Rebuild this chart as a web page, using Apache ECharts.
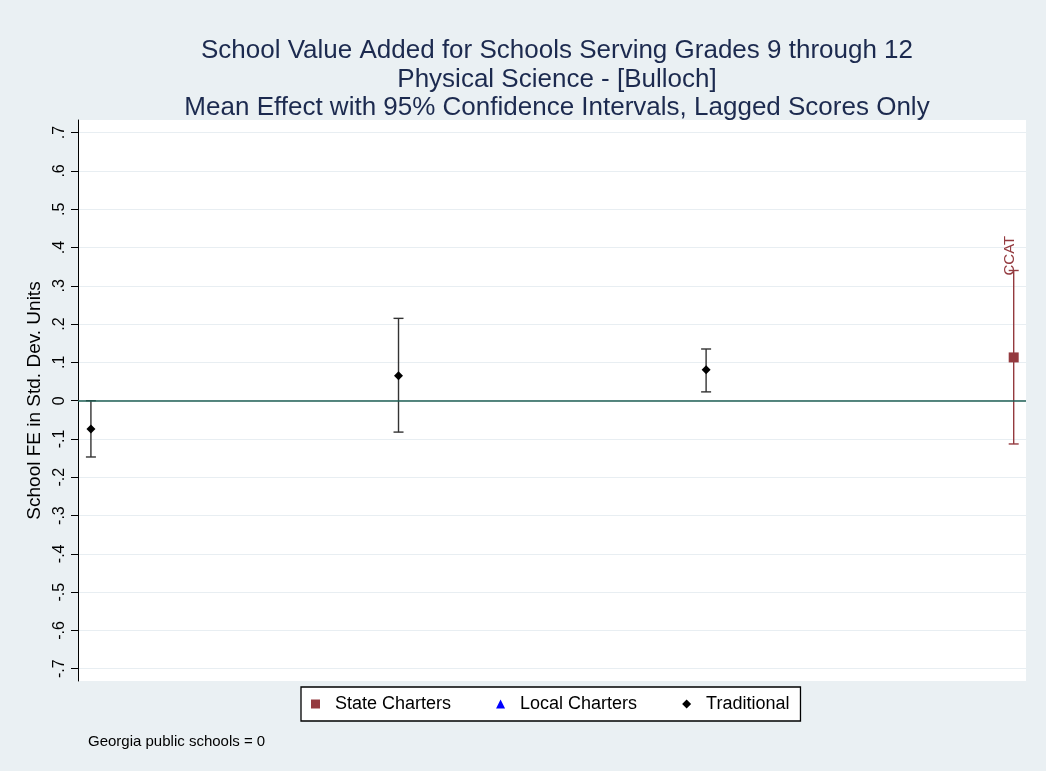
<!DOCTYPE html>
<html>
<head>
<meta charset="utf-8">
<script src="https://cdn.jsdelivr.net/npm/echarts@6/dist/echarts.min.js"></script>
<style>
html,body{margin:0;padding:0;background:#eaf0f3;}
#chart{width:1046px;height:771px;}
</style>
</head>
<body>
<div id="chart"></div>
<script>
// ---- data ----
const titleLines = [
  'School Value Added for Schools Serving Grades 9 through 12',
  'Physical Science - [Bulloch]',
  'Mean Effect with 95% Confidence Intervals, Lagged Scores Only'
];
const yTicks = [-0.7,-0.6,-0.5,-0.4,-0.3,-0.2,-0.1,0,0.1,0.2,0.3,0.4,0.5,0.6,0.7];

const stateNames = ['CCAT'];
const stateX    = [4];
const stateMean = [0.113];
const stateLow  = [-0.113];
const stateHigh = [0.340];

const localX = [];
const localMean = [];

const tradX    = [1, 2, 3];
const tradMean = [-0.074, 0.065, 0.081];
const tradLow  = [-0.147, -0.082, 0.023];
const tradHigh = [0.000, 0.215, 0.135];

// ---- build ----
const FONT = '"Liberation Sans", Arial, sans-serif';
const fmt = v => {
  const r = Math.round(v*10)/10;
  if (r === 0) return '0';
  return r.toFixed(1).replace('0.', '.');
};

function errBar(color, labels){
  return function(params, api){
    const x = api.value(0), lo = api.value(1), hi = api.value(2);
    const pLo = api.coord([x, lo]), pHi = api.coord([x, hi]);
    const hw = 5;
    const st = {stroke: color, lineWidth: 1.4};
    const children = [
      {type:'line', shape:{x1:pLo[0], y1:pLo[1], x2:pHi[0], y2:pHi[1]}, style: st},
      {type:'line', shape:{x1:pLo[0]-hw, y1:pLo[1], x2:pLo[0]+hw, y2:pLo[1]}, style: st},
      {type:'line', shape:{x1:pHi[0]-hw, y1:pHi[1], x2:pHi[0]+hw, y2:pHi[1]}, style: st}
    ];
    if (labels && labels[params.dataIndex]) {
      children.push({type:'text', x: pHi[0]-4, y: pHi[1]+5, rotation: Math.PI/2,
        style:{text: labels[params.dataIndex], fill: color, font: '15px ' + FONT,
               align:'left', verticalAlign:'middle'}});
    }
    return {type:'group', children};
  };
}

const stateColor = '#943a3f';
const tradColor = '#000000';

const chart = echarts.init(document.getElementById('chart'));
chart.setOption({
  backgroundColor: '#eaf0f3',
  animation: false,
  textStyle: {fontFamily: FONT},
  title: {
    text: titleLines.join('\n'),
    left: 552, top: 32, textAlign: 'center',
    textStyle: {fontSize: 26, fontWeight: 'normal', color: '#1c2a4f', lineHeight: 28.5, fontFamily: FONT}
  },
  graphic: [{
    type: 'text', left: 88, top: 734,
    style: {text: 'Georgia public schools = 0', font: '15px ' + FONT, fill: '#000'}
  }],
  legend: {
    left: 301, top: 687,
    padding: [8, 11, 8, 10],
    backgroundColor: '#ffffff', borderColor: '#000', borderWidth: 1.3, borderRadius: 0,
    itemWidth: 9, itemHeight: 9, itemGap: 45,
    textStyle: {fontSize: 18, color: '#000', padding: [0,0,0,10]},
    data: [
      {name: 'State Charters', icon: 'rect'},
      {name: 'Local Charters', icon: 'triangle'},
      {name: 'Traditional', icon: 'diamond'}
    ]
  },
  grid: {left: 78, right: 20, top: 120, bottom: 90, show: true, backgroundColor: '#ffffff', borderWidth: 0},
  xAxis: {type: 'value', min: 0.958, max: 4.04, show: false},
  yAxis: {
    type: 'value', min: -0.732, max: 0.733,
    name: 'School FE in Std. Dev. Units', nameLocation: 'middle', nameGap: 32,
    nameTextStyle: {fontSize: 19, color: '#000'},
    axisLine: {show: true, lineStyle: {color: '#000', width: 1}},
    axisTick: {show: true, length: 7, lineStyle: {color: '#000'}, customValues: yTicks},
    axisLabel: {rotate: 90, fontSize: 16, color: '#000', margin: 10, customValues: yTicks, formatter: fmt},
    splitLine: {show: true, lineStyle: {color: '#e8eef2', width: 1}}
  },
  series: [
    {
      name: 'State Charters CI', type: 'custom', silent: true, z: 3,
      renderItem: errBar(stateColor, stateNames),
      data: stateX.map((x,i) => [x, stateLow[i], stateHigh[i]])
    },
    {
      name: 'Traditional CI', type: 'custom', silent: true, z: 3,
      renderItem: errBar('#333333', null),
      data: tradX.map((x,i) => [x, tradLow[i], tradHigh[i]])
    },
    {
      name: 'State Charters', type: 'scatter', symbol: 'rect', symbolSize: 10, z: 5,
      itemStyle: {color: stateColor, opacity: 1},
      data: stateX.map((x,i) => [x, stateMean[i]]),
      markLine: {
        silent: true, symbol: 'none', label: {show: false},
        lineStyle: {color: '#1f5f55', width: 1.5, type: 'solid'},
        data: [{yAxis: 0}]
      }
    },
    {
      name: 'Local Charters', type: 'scatter', symbol: 'triangle', symbolSize: 8,
      itemStyle: {color: '#0000ff', opacity: 1},
      data: localX.map((x,i) => [x, localMean[i]])
    },
    {
      name: 'Traditional', type: 'scatter', symbol: 'diamond', symbolSize: 9, z: 5,
      itemStyle: {color: tradColor, opacity: 1},
      data: tradX.map((x,i) => [x, tradMean[i]])
    }
  ]
});
</script>
</body>
</html>
